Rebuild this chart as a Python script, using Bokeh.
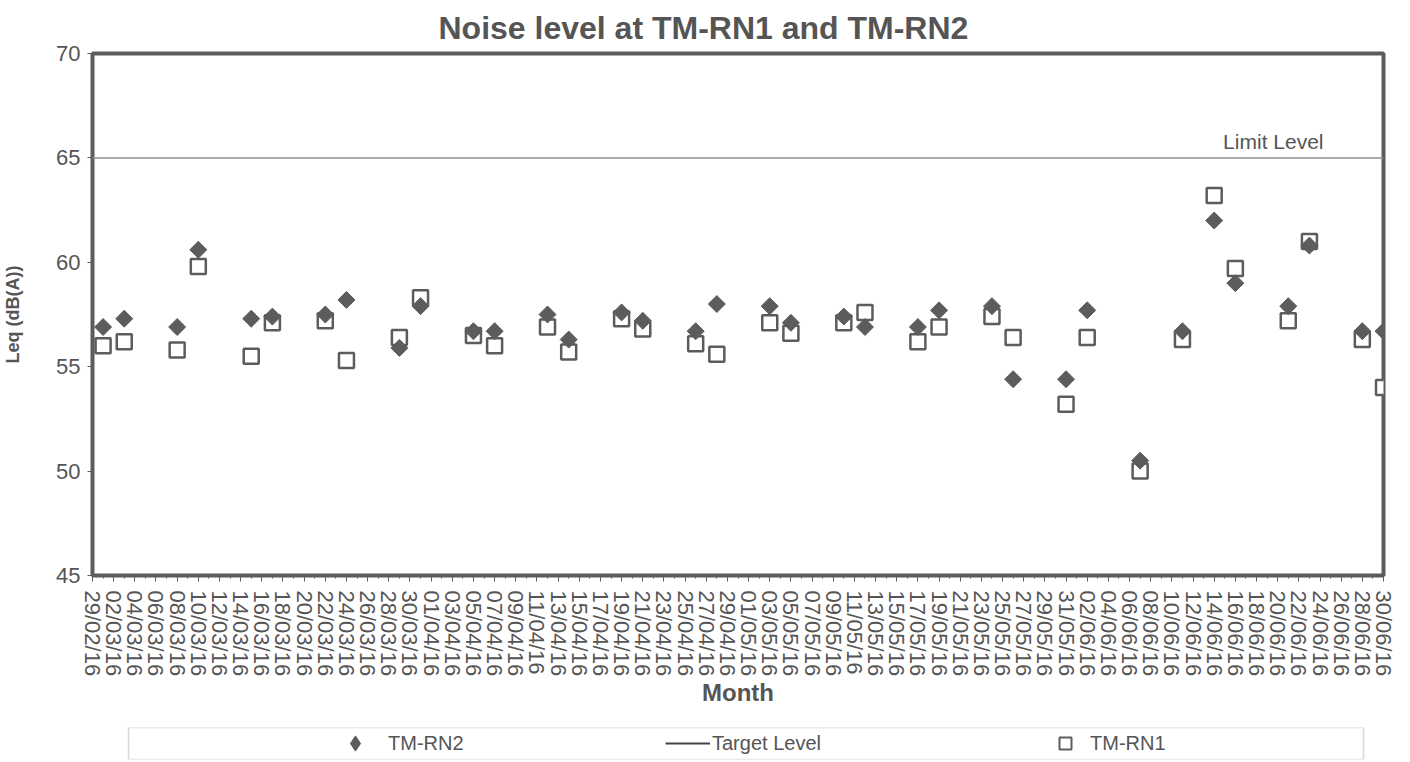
import math
import pandas as pd
from bokeh.plotting import figure
from bokeh.models import (FixedTicker, DatetimeTickFormatter, Span, Label, Range1d,
                          Legend, LegendItem, BoxAnnotation)
from bokeh.layouts import column
from bokeh.embed import file_html
from bokeh.resources import INLINE

# ---------------- data ----------------
dates = ["01/03/16", "03/03/16", "08/03/16", "10/03/16", "15/03/16", "17/03/16",
         "22/03/16", "24/03/16", "29/03/16", "31/03/16", "05/04/16", "07/04/16",
         "12/04/16", "14/04/16", "19/04/16", "21/04/16", "26/04/16", "28/04/16",
         "03/05/16", "05/05/16", "10/05/16", "12/05/16", "17/05/16", "19/05/16",
         "24/05/16", "26/05/16", "31/05/16", "02/06/16", "07/06/16", "11/06/16",
         "14/06/16", "16/06/16", "21/06/16", "23/06/16", "28/06/16", "30/06/16"]

tm_rn2 = [56.9, 57.3, 56.9, 60.6, 57.3, 57.4, 57.5, 58.2, 55.9, 57.9, 56.7, 56.7,
          57.5, 56.3, 57.6, 57.2, 56.7, 58.0, 57.9, 57.1, 57.4, 56.9, 56.9, 57.7,
          57.9, 54.4, 54.4, 57.7, 50.5, 56.7, 62.0, 59.0, 57.9, 60.8, 56.7, 56.7]

tm_rn1 = [56.0, 56.2, 55.8, 59.8, 55.5, 57.1, 57.2, 55.3, 56.4, 58.3, 56.5, 56.0,
          56.9, 55.7, 57.3, 56.8, 56.1, 55.6, 57.1, 56.6, 57.1, 57.6, 56.2, 56.9,
          57.4, 56.4, 53.2, 56.4, 50.0, 56.3, 63.2, 59.7, 57.2, 61.0, 56.3, 54.0]

target_level = 65
axis_start = "29/02/16"
axis_end = "30/06/16"
y_ticks = [45, 50, 55, 60, 65, 70]

# ---------------- prep ----------------
FMT = "%d/%m/%y"
x = pd.to_datetime(dates, format=FMT)
x0 = pd.to_datetime(axis_start, format=FMT)
x1 = pd.to_datetime(axis_end, format=FMT)
major = [t.value / 1e6 for t in pd.date_range(x0, x1, freq="2D")]
minor = [t.value / 1e6 for t in pd.date_range(x0, x1, freq="1D")]

GREY = "#5c5c5c"
TEXT = "#555555"
FONT = "Liberation Sans"
W = 1410
B_LEFT, B_RIGHT = 92, 27

p = figure(width=W, height=722, x_axis_type="datetime",
           x_range=Range1d(x0, x1), y_range=Range1d(y_ticks[0], y_ticks[-1]),
           output_backend="svg", toolbar_location=None,
           min_border_left=B_LEFT, min_border_right=B_RIGHT, min_border_top=52,
           min_border_bottom=147,
           title="Noise level at TM-RN1 and TM-RN2")

p.title.align = "left"
p.title.offset = 346
p.title.text_font = FONT
p.title.text_font_size = "32px"
p.title.text_font_style = "bold"
p.title.text_color = TEXT
p.title.standoff = 15

p.xgrid.visible = False
p.ygrid.visible = False
p.outline_line_color = GREY
p.outline_line_width = 4
p.outline_line_alpha = 1.0
p.background_fill_color = "white"
p.border_fill_color = "white"

# x axis
xa = p.xaxis[0]
xa.ticker = FixedTicker(ticks=major, minor_ticks=minor)
xa.formatter = DatetimeTickFormatter(
    microseconds=FMT, milliseconds=FMT, seconds=FMT, minsec=FMT, minutes=FMT,
    hourmin=FMT, hours=FMT, days=FMT, months=FMT, years=FMT)
xa.major_label_orientation = -math.pi / 2
xa.major_label_text_font = FONT
xa.major_label_text_font_size = "22px"
xa.major_label_text_color = TEXT
xa.major_label_standoff = 9
xa.axis_line_color = None
xa.major_tick_line_color = GREY
xa.major_tick_in = 0
xa.major_tick_out = 6
xa.minor_tick_line_color = GREY
xa.minor_tick_in = 0
xa.minor_tick_out = 3
xa.axis_label = "Month"
xa.axis_label_text_font = FONT
xa.axis_label_text_font_size = "24px"
xa.axis_label_text_font_style = "bold"
xa.axis_label_text_color = TEXT
xa.axis_label_standoff = 0

# y axis
ya = p.yaxis[0]
ya.ticker = FixedTicker(ticks=y_ticks)
ya.major_label_text_font = FONT
ya.major_label_text_font_size = "22px"
ya.major_label_text_color = TEXT
ya.major_label_standoff = 7
ya.axis_line_color = None
ya.major_tick_line_color = GREY
ya.major_tick_in = 0
ya.major_tick_out = 5
ya.minor_tick_line_color = None
ya.axis_label = "Leq (dB(A))"
ya.axis_label_text_font = FONT
ya.axis_label_text_font_size = "18px"
ya.axis_label_text_font_style = "bold"
ya.axis_label_text_color = TEXT
ya.axis_label_standoff = 30

# target / limit level
p.add_layout(Span(location=target_level, dimension="width",
                  line_color="#8f8f8f", line_width=1.5))
p.add_layout(Label(x=x1.value / 1e6, y=target_level, x_offset=-60, y_offset=16,
                   text="Limit Level", text_align="right",
                   text_baseline="alphabetic", text_font=FONT,
                   text_font_size="21px", text_color=TEXT))

# series
p.scatter(x, tm_rn1, marker="square", size=15, fill_color="white",
          line_color=GREY, line_width=2.5)
p.scatter(x, tm_rn2, marker="square", angle=math.pi / 4, size=12,
          fill_color=GREY, line_color=GREY, line_width=1)

# ---------------- legend strip ----------------
FRAME_W = W - B_LEFT - B_RIGHT
lg = figure(width=W, height=38, x_range=Range1d(0, FRAME_W), y_range=Range1d(0, 1),
            output_backend="svg", toolbar_location=None,
            min_border_left=B_LEFT, min_border_right=B_RIGHT, min_border_top=5,
            min_border_bottom=1)
lg.axis.visible = False
lg.xgrid.visible = False
lg.ygrid.visible = False
lg.outline_line_color = None
lg.border_fill_color = "white"
lg.add_layout(BoxAnnotation(left=36, right=FRAME_W - 20, fill_alpha=0,
                            line_color="#7a7a7a", line_width=1.5))

# key glyphs (their single point lies outside the strip's visible ranges)
k_rn2 = lg.scatter(x=[-100], y=[-100], marker="diamond", size=12,
                   fill_color=GREY, line_color=GREY)
k_tgt = lg.line(x=[-100, -90], y=[-100, -100], line_color="#444444", line_width=2)
k_rn1 = lg.scatter(x=[-100], y=[-100], marker="square", size=11, fill_color="white",
                   line_color=GREY, line_width=2)


def make_legend(label, rend, x_pos, y_pos, gw, gh, standoff):
    return Legend(items=[LegendItem(label=label, renderers=[rend])],
                  location=(x_pos, y_pos), orientation="horizontal",
                  glyph_width=gw, glyph_height=gh, label_standoff=standoff,
                  padding=0, margin=0, spacing=0,
                  border_line_alpha=0, background_fill_alpha=0,
                  label_text_font=FONT, label_text_font_size="20px",
                  label_text_color=TEXT)


lg.add_layout(make_legend("TM-RN2", k_rn2, 244, -3, 38, 38, 14))
lg.add_layout(make_legend("Target Level", k_tgt, 573, 1, 45, 30, 2))
lg.add_layout(make_legend("TM-RN1", k_rn1, 958, 1, 30, 30, 10))

layout = column(p, lg, spacing=0)
open("out.html", "w").write(file_html(layout, INLINE))
